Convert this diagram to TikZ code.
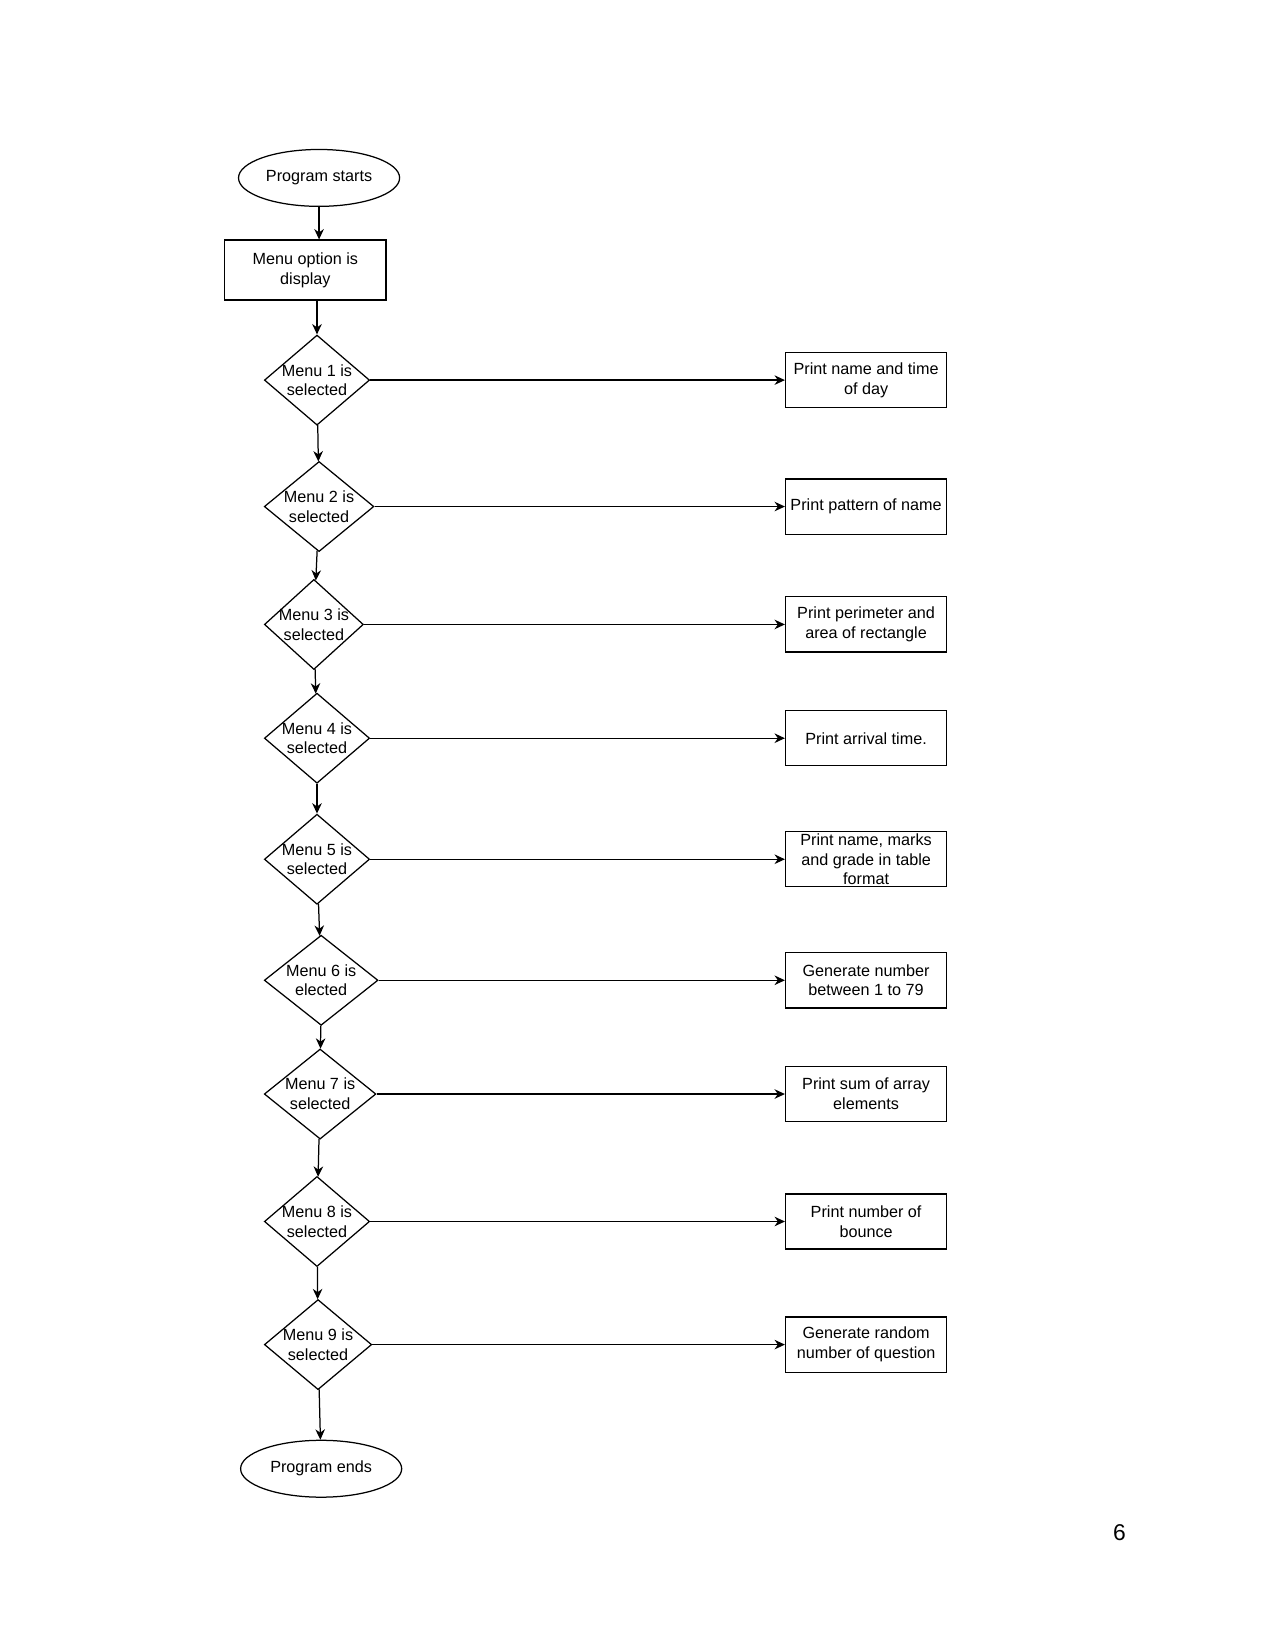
\documentclass[tikz,border=0pt]{standalone}
\usepackage{fontspec}
\setmainfont{Liberation Sans}
\usetikzlibrary{shapes.geometric,arrows.meta}

\begin{document}
\begin{tikzpicture}[auto, line width=0.6pt, >={Stealth[length=5pt,width=4.6pt,inset=1.6pt]},
        font=\fontsize{7.8}{9.5}\selectfont,
        every label/.append style={align=center, inner sep=0pt},
        terminal/.style={ellipse, draw, minimum width=77.6pt, minimum height=27.4pt, inner sep=0pt},
        block/.style={rectangle, draw, minimum width=77.6pt, minimum height=26.6pt, inner xsep=2pt, inner ysep=0pt, align=center},
        decision/.style={diamond, draw, minimum width=50.7pt, minimum height=43.4pt, inner sep=0pt}]
        \useasboundingbox (0,0) rectangle (614.2pt,-795.3pt);
        \node[terminal] (start) at (153.7pt,-85.7pt) {Program starts};
        \node[block, below of=start, node distance=44.4pt, xshift=-6.6pt, minimum height=28.9pt] (menu) {Menu option is\\display};
        \node[decision, below of=menu, node distance=53pt, xshift=5.6pt, label={center:Menu 1 is\\selected}] (sel1) {};
        \node[decision, below of=sel1, node distance=60.9pt, xshift=1pt, minimum width=52.8pt, label={center:Menu 2 is\\selected}] (sel2) {};
        \node[decision, below of=sel2, node distance=56.8pt, xshift=-2.5pt, minimum width=47.7pt, label={center:Menu 3 is\\selected}] (sel3) {};
        \node[decision, below of=sel3, node distance=54.8pt, xshift=1.5pt, label={center:Menu 4 is\\selected}] (sel4) {};
        \node[decision, below of=sel4, node distance=58.3pt, label={center:Menu 5 is\\selected}] (sel5) {};
        \node[decision, below of=sel5, node distance=58.3pt, xshift=2pt, minimum width=54.8pt, label={center:Menu 6 is\\elected}] (sel6) {};
        \node[decision, below of=sel6, node distance=54.8pt, xshift=-0.5pt, minimum width=53.8pt, label={center:Menu 7 is\\selected}] (sel7) {};
        \node[decision, below of=sel7, node distance=61.4pt, xshift=-1.5pt, label={center:Menu 8 is\\selected}] (sel8) {};
        \node[decision, below of=sel8, node distance=59.3pt, xshift=0.5pt, minimum width=51.7pt, label={center:Menu 9 is\\selected}] (sel9) {};
        \node[terminal, below of=sel9, node distance=59.8pt, xshift=1.5pt] (stop) {Program ends};
        \node[block, right of=sel1, node distance=264.5pt] (act1) {Print name and time\\of day};
        \node[block, right of=sel2, node distance=263.5pt] (act2) {Print pattern of name};
        \node[block, right of=sel3, node distance=266pt] (act3) {Print perimeter and\\area of rectangle};
        \node[block, right of=sel4, node distance=264.5pt] (act4) {Print arrival time.};
        \node[block, right of=sel5, node distance=264.5pt] (act5) {Print name, marks\\and grade in table\\format};
        \node[block, right of=sel6, node distance=262.5pt] (act6) {Generate number\\between 1 to 79};
        \node[block, right of=sel7, node distance=263pt] (act7) {Print sum of array\\elements};
        \node[block, right of=sel8, node distance=264.5pt] (act8) {Print number of\\bounce};
        \node[block, right of=sel9, node distance=264pt] (act9) {Generate random\\number of question};
        \node[font=\fontsize{11}{13}\selectfont] (pagenum) at (539.2pt,-738.5pt) {6};
        \draw[->] (start.south) -- (start.south |- menu.north);
        \draw[->] (sel1.north |- menu.south) -- (sel1.north);
        \draw[->] (sel1) -- (sel2);
        \draw[->] (sel2) -- (sel3);
        \draw[->] (sel3) -- (sel4);
        \draw[->] (sel4) -- (sel5);
        \draw[->] (sel5) -- (sel6);
        \draw[->] (sel6) -- (sel7);
        \draw[->] (sel7) -- (sel8);
        \draw[->] (sel8) -- (sel9);
        \draw[->] (sel9) -- (stop);
        \draw[->] (sel1) -- (act1);
        \draw[->] (sel2) -- (act2);
        \draw[->] (sel3) -- (act3);
        \draw[->] (sel4) -- (act4);
        \draw[->] (sel5) -- (act5);
        \draw[->] (sel6) -- (act6);
        \draw[->] (sel7) -- (act7);
        \draw[->] (sel8) -- (act8);
        \draw[->] (sel9) -- (act9);
    \end{tikzpicture}
\end{document}
